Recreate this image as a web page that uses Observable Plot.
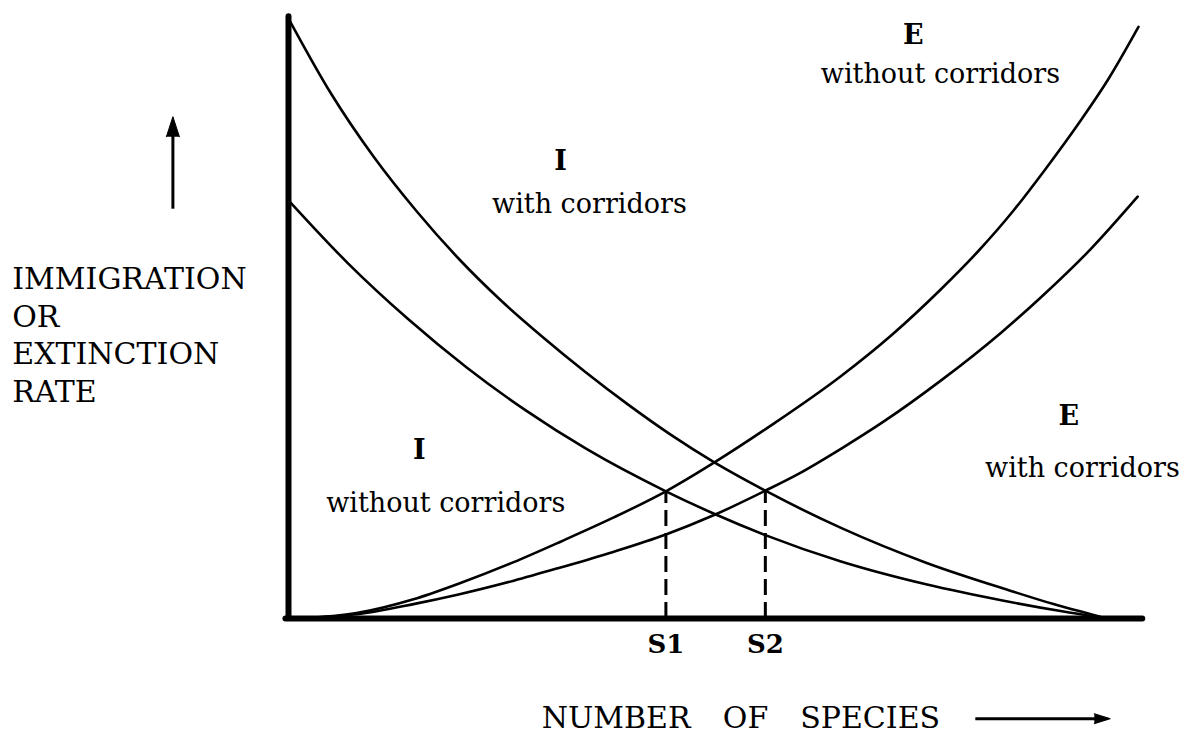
<!DOCTYPE html>
<html>
<head>
<meta charset="utf-8">
<script src="https://cdn.jsdelivr.net/npm/d3@7"></script>
<script src="https://cdn.jsdelivr.net/npm/@observablehq/plot@0.6"></script>
<style>
  html, body { margin: 0; padding: 0; background: #fff; }
  #chart svg { display: block; }
</style>
</head>
<body>
<div id="chart"></div>
<script>
// Number of species (x, 0–100) and rate (y, 0–100)
const iWithX    = [0, 5, 10, 15, 20, 25, 30, 35, 40, 45, 50, 56.1, 65, 75, 85, 90, 95.5];
const iWithY    = [100, 87.5, 77, 68, 60, 53, 46.8, 41, 35.6, 30.6, 26.1, 21.3, 15.1, 9.3, 4.6, 2.4, 0.3];
const iWithoutX = [0, 7, 14, 21, 28, 35, 44.4, 50, 56.1, 65, 75, 84, 91, 95.5];
const iWithoutY = [69.7, 59.2, 50, 41.8, 34.6, 28.3, 21.2, 17.5, 13.9, 9.5, 5.7, 3.0, 1.2, 0.2];
const eWithoutX = [1.4, 8, 14.7, 20, 26.5, 32, 38.2, 44.4, 50.2, 57, 64.9, 71, 76.7, 81, 85.3, 89, 93.2, 96.5, 100];
const eWithoutY = [0, 0.9, 3.2, 5.8, 9.4, 12.8, 16.8, 21.2, 26.1, 32.4, 40.3, 47.3, 54.8, 61, 68, 74.8, 83, 90, 98.6];
const eWithX    = [1.4, 8, 14.7, 20, 26.5, 32, 38.2, 44.4, 50, 56.1, 60, 64.9, 70, 76.7, 83.8, 88.5, 94.4, 99.9];
const eWithY    = [0, 0.7, 2.4, 4.0, 6.3, 8.5, 11.1, 14.0, 17.2, 21.3, 24.1, 28.2, 32.8, 39.6, 47.6, 53.5, 61.6, 70.3];

// Equilibria
const eqLabels = ["S1", "S2"];
const eqX = [44.4, 56.1];
const eqY = [21.2, 21.3];

const yLabel = "IMMIGRATION\nOR\nEXTINCTION\nRATE";
const xLabel = ["NUMBER", "OF", "SPECIES"];

const zip = (xs, ys) => xs.map((x, i) => ({x, y: ys[i]}));
const curves = [zip(iWithX, iWithY), zip(iWithoutX, iWithoutY), zip(eWithoutX, eWithoutY), zip(eWithX, eWithY)];
const eq = eqLabels.map((s, i) => ({s, x: eqX[i], y: eqY[i]}));

const font = "DejaVu Serif";

const chart = Plot.plot({
  width: 1186,
  height: 736,
  marginLeft: 288,
  marginRight: 48,
  marginTop: 18,
  marginBottom: 118,
  style: {fontFamily: font, background: "#fff", overflow: "visible"},
  x: {domain: [0, 100], axis: null},
  y: {domain: [0, 100], axis: null},
  marks: [
    ...curves.map(c => Plot.line(c, {x: "x", y: "y", curve: "monotone-x", stroke: "#000", strokeWidth: 2.6})),
    Plot.ruleX(eq, {x: "x", y1: 0, y2: "y", stroke: "#000", strokeWidth: 3, strokeDasharray: "16,7"}),
    Plot.ruleX([0], {y1: 0, y2: 100.3, stroke: "#000", strokeWidth: 6, strokeLinecap: "round"}),
    Plot.ruleY([0], {x1: -0.3, x2: 100.5, stroke: "#000", strokeWidth: 6, strokeLinecap: "round"}),
    Plot.text(eq, {x: "x", y: -4.3, text: "s", fontSize: 26, fontWeight: "bold", fill: "#000"}),
    // curve labels
    Plot.text(["I"], {x: 32, y: 76.2, fontSize: 27, fontWeight: "bold", fill: "#000"}),
    Plot.text(["with corridors"], {x: 35.4, y: 69, fontSize: 27, fill: "#000"}),
    Plot.text(["I"], {x: 15.4, y: 28, fontSize: 27, fontWeight: "bold", fill: "#000"}),
    Plot.text(["without corridors"], {x: 18.5, y: 19.2, fontSize: 27, fill: "#000"}),
    Plot.text(["E"], {x: 73.5, y: 97.2, fontSize: 27, fontWeight: "bold", fill: "#000"}),
    Plot.text(["without corridors"], {x: 76.7, y: 90.7, fontSize: 27, fill: "#000"}),
    Plot.text(["E"], {x: 91.8, y: 33.7, fontSize: 27, fontWeight: "bold", fill: "#000"}),
    Plot.text(["with corridors"], {x: 93.4, y: 25, fontSize: 27, fill: "#000"}),
    // axis titles
    Plot.text([yLabel], {x: -32.5, y: 47.5, textAnchor: "start", fontSize: 30, lineHeight: 1.26, fill: "#000"}),
    Plot.text(xLabel, {x: [29.8, 51.1, 60.2], y: -16.7, textAnchor: "start", fontSize: 30, fill: "#000"}),
    // direction arrows
    Plot.link([0], {x1: -13.6, x2: -13.6, y1: 68.3, y2: 80.5, stroke: "#000", strokeWidth: 3}),
    Plot.vector([0], {x: -13.6, y: 80.3, length: 20, r: 6.5, shape: "spike", anchor: "start", rotate: 0, fill: "#000", stroke: "#000", strokeWidth: 1}),
    Plot.link([0], {x1: 80.8, x2: 95, y1: -16.7, y2: -16.7, stroke: "#000", strokeWidth: 3}),
    Plot.vector([0], {x: 94.8, y: -16.7, length: 16, r: 5, shape: "spike", anchor: "start", rotate: 90, fill: "#000", stroke: "#000", strokeWidth: 1})
  ]
});
document.getElementById("chart").append(chart);
</script>
</body>
</html>
